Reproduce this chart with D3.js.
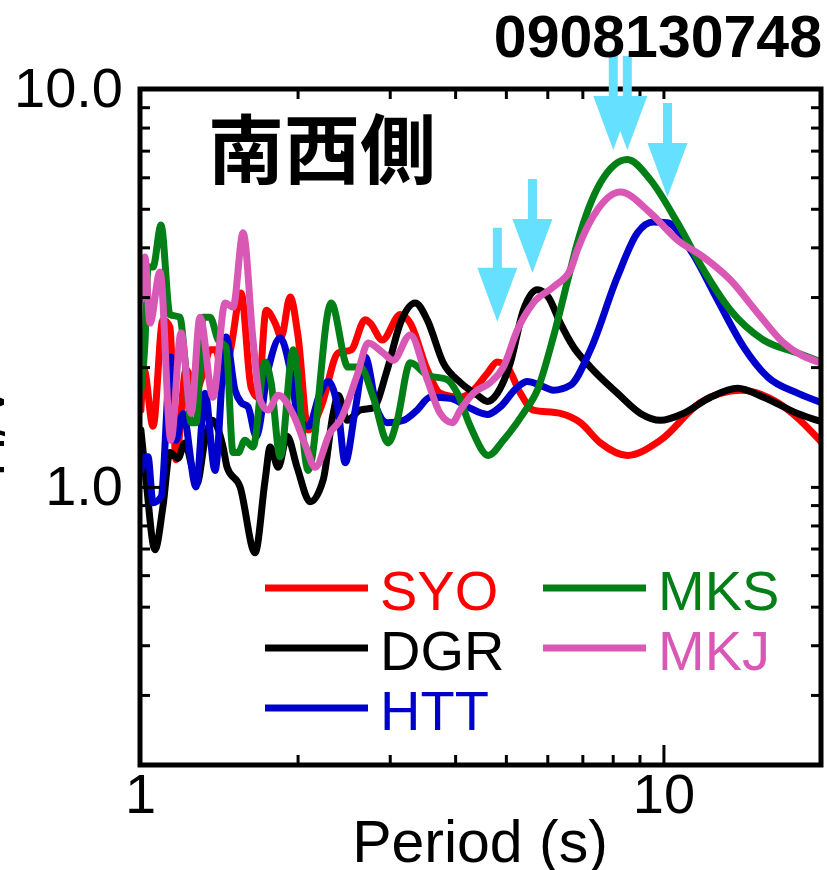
<!DOCTYPE html>
<html>
<head>
<meta charset="utf-8">
<script src="https://cdn.jsdelivr.net/npm/d3@7"></script>
<style>
  body { margin: 0; background: #fff; }
  svg { display: block; }
</style>
</head>
<body>
<script>
// H/V spectral ratio per station: [period (s), H/V]
const SYO = [[1.004,1.56],[1.018,1.97],[1.059,1.42],[1.106,2.63],[1.141,2.52],[1.172,1.17],[1.224,1.97],[1.280,1.75],[1.320,1.93],[1.361,2.21],[1.397,2.21],[1.441,1.83],[1.493,2.25],[1.560,3.07],[1.630,1.78],[1.681,1.68],[1.742,2.78],[1.812,2.58],[1.861,2.38],[1.936,3.00],[2.005,2.38],[2.096,1.39],[2.219,1.59],[2.391,2.17],[2.531,2.21],[2.693,2.63],[2.753,2.58],[2.903,2.34],[3.143,2.71],[3.283,2.58],[3.538,1.97],[3.746,1.72],[4.092,1.68],[4.333,1.75],[4.609,1.93],[4.816,2.06],[5.033,2.00],[5.329,1.72],[5.642,1.56],[6.354,1.53],[6.939,1.45],[7.578,1.29],[8.534,1.20],[9.869,1.31],[11.77,1.63],[14.04,1.75],[16.52,1.63],[20.0,1.30]];
const DGR = [[1.004,1.39],[1.027,1.04],[1.068,0.695],[1.106,0.891],[1.141,1.22],[1.182,1.18],[1.219,1.29],[1.257,1.12],[1.285,1.02],[1.331,1.31],[1.373,1.47],[1.441,1.26],[1.467,1.12],[1.553,1.00],[1.659,0.683],[1.734,1.04],[1.773,1.26],[1.837,1.12],[1.910,1.34],[1.996,1.12],[2.114,0.917],[2.238,1.04],[2.339,1.53],[2.391,1.70],[2.488,1.47],[2.634,1.56],[2.790,1.58],[2.967,1.97],[3.143,2.58],[3.356,2.90],[3.538,2.63],[3.796,2.05],[4.092,1.83],[4.410,1.70],[4.609,1.64],[4.816,1.72],[5.099,2.05],[5.400,2.78],[5.742,3.13],[6.027,3.00],[6.354,2.58],[6.728,2.25],[7.252,2.00],[8.166,1.72],[9.036,1.53],[9.869,1.47],[10.92,1.53],[12.30,1.68],[13.86,1.77],[15.53,1.68],[18.04,1.53],[20.0,1.46]];
const HTT = [[1.004,1.10],[1.022,1.19],[1.036,1.19],[1.059,0.912],[1.097,0.944],[1.146,2.12],[1.172,1.31],[1.208,1.53],[1.280,1.00],[1.331,1.72],[1.391,1.10],[1.460,2.38],[1.519,1.75],[1.560,1.63],[1.608,1.59],[1.667,1.34],[1.757,1.97],[1.853,2.37],[1.936,1.97],[2.005,1.50],[2.096,1.42],[2.209,1.72],[2.288,1.84],[2.391,1.56],[2.466,1.15],[2.577,1.56],[2.693,2.12],[2.840,1.56],[2.967,1.45],[3.185,1.47],[3.385,1.56],[3.585,1.68],[3.915,1.67],[4.220,1.59],[4.609,1.52],[4.880,1.59],[5.259,1.78],[5.495,1.84],[5.819,1.80],[6.161,1.75],[6.640,1.80],[7.252,2.21],[8.166,3.37],[8.918,4.35],[9.570,4.63],[10.18,4.61],[11.26,3.94],[12.69,2.95],[14.22,2.25],[15.81,1.89],[18.04,1.72],[20.0,1.63]];
const MKS = [[1.004,1.75],[1.022,2.30],[1.036,3.57],[1.059,3.57],[1.097,4.55],[1.141,2.71],[1.192,2.67],[1.219,2.08],[1.252,1.45],[1.280,1.45],[1.320,2.67],[1.361,2.67],[1.410,2.34],[1.460,2.25],[1.506,1.22],[1.540,1.22],[1.587,1.31],[1.644,1.26],[1.734,2.06],[1.780,1.83],[1.853,1.19],[1.962,2.21],[2.096,1.10],[2.318,2.90],[2.498,2.00],[2.634,2.00],[2.790,1.68],[2.980,1.29],[3.100,1.47],[3.283,2.05],[3.538,1.91],[3.864,1.86],[4.038,1.72],[4.276,1.42],[4.629,1.20],[4.945,1.31],[5.400,1.53],[5.742,1.75],[6.161,2.38],[6.640,3.51],[6.848,4.10],[7.578,5.81],[8.534,6.65],[9.444,5.91],[10.64,4.61],[11.93,3.51],[13.43,2.78],[15.53,2.34],[18.04,2.17],[20.0,2.06]];
const MKJ = [[1.004,2.95],[1.022,3.78],[1.045,2.58],[1.092,3.47],[1.146,1.31],[1.198,2.44],[1.252,1.53],[1.302,2.67],[1.379,1.68],[1.454,2.90],[1.506,2.83],[1.574,4.35],[1.644,2.34],[1.696,1.65],[1.757,1.56],[1.837,1.70],[1.962,1.52],[2.068,1.275],[2.161,1.12],[2.308,1.37],[2.412,1.47],[2.600,1.91],[2.729,2.30],[2.915,2.17],[3.045,2.08],[3.283,2.41],[3.538,1.86],[3.746,1.53],[3.950,1.45],[4.092,1.56],[4.333,1.72],[4.670,1.83],[4.945,2.00],[5.259,2.48],[5.642,2.90],[6.161,3.18],[6.640,3.51],[6.848,3.94],[7.479,4.97],[8.275,5.51],[9.444,4.88],[10.64,4.17],[11.93,3.78],[13.43,3.31],[15.12,2.74],[16.96,2.30],[20.0,2.05]];

const stationNames  = ["SYO", "DGR", "HTT", "MKS", "MKJ"];
const stationData   = [SYO, DGR, HTT, MKS, MKJ];
const stationColors = ["#FF0000", "#000000", "#0000CC", "#037F18", "#D957B5"];

// Peak markers: [period (s), H/V at arrow tip]
const peakArrows = [[4.816, 2.60], [5.62, 3.45], [8.02, 7.03], [8.53, 7.03], [10.18, 5.35]];

const xMinorTicks = [2, 3, 4, 5, 6, 7, 8, 9, 20];
const xMajorTicks = [1, 10];
const xMajorLabels = ["1", "10"];
const yMinorTicks = [0.3, 0.4, 0.5, 0.6, 0.7, 0.8, 0.9, 2, 3, 4, 5, 6, 7, 8, 9];
const yMajorTicks = [1, 10];
const yMajorLabels = ["1.0", "10.0"];

const eventId = "0908130748";
const sideLabel = "南西側";
const xTitle = "Period (s)";
const yTitle = "H/V";

const W = 827, H = 870;
const plot = { left: 140, top: 89, right: 821, bottom: 765 };
const FONT = "'Liberation Sans', Arial, sans-serif";

const svg = d3.select("body").append("svg").attr("width", W).attr("height", H);

const x = d3.scaleLog().domain([1, 20]).range([plot.left, plot.right]);
const y = d3.scaleLog().domain([0.2, 10]).range([plot.bottom, plot.top]);

svg.append("defs").append("clipPath").attr("id", "plotclip")
  .append("rect")
  .attr("x", plot.left).attr("y", plot.top)
  .attr("width", plot.right - plot.left).attr("height", plot.bottom - plot.top);

// Curves
const line = d3.line()
  .x(d => x(d[0]))
  .y(d => y(d[1]))
  .curve(d3.curveMonotoneX);

const curves = svg.append("g").attr("clip-path", "url(#plotclip)");
stationData.forEach((data, i) => {
  curves.append("path")
    .datum(data)
    .attr("d", line)
    .attr("fill", "none")
    .attr("stroke", stationColors[i])
    .attr("stroke-width", 7)
    .attr("stroke-linejoin", "round")
    .attr("stroke-linecap", "round");
});

// Axes (ticks point inward)
function styleAxis(g, labelSize) {
  g.select(".domain").remove();
  g.selectAll(".tick line").attr("stroke", "#000").attr("stroke-width", 3);
  g.selectAll(".tick text")
    .attr("fill", "#000")
    .style("font-family", FONT)
    .style("font-size", labelSize + "px");
}

const atBottom = `translate(0,${plot.bottom})`;
svg.append("g").attr("transform", atBottom)
  .call(d3.axisBottom(x).tickValues(xMinorTicks).tickSizeInner(-10).tickSizeOuter(0).tickFormat(""))
  .call(g => styleAxis(g, 56));
svg.append("g").attr("transform", atBottom)
  .call(d3.axisBottom(x).tickValues(xMajorTicks).tickSizeInner(-20).tickSizeOuter(0).tickPadding(8)
    .tickFormat((d, i) => xMajorLabels[i]))
  .call(g => styleAxis(g, 56));

const atTop = `translate(0,${plot.top})`;
svg.append("g").attr("transform", atTop)
  .call(d3.axisTop(x).tickValues(xMinorTicks.concat(xMajorTicks)).tickSizeInner(-10).tickSizeOuter(0).tickFormat(""))
  .call(g => styleAxis(g, 56));

const atLeft = `translate(${plot.left},0)`;
svg.append("g").attr("transform", atLeft)
  .call(d3.axisLeft(y).tickValues(yMinorTicks).tickSizeInner(-10).tickSizeOuter(0).tickFormat(""))
  .call(g => styleAxis(g, 56));
svg.append("g").attr("transform", atLeft)
  .call(d3.axisLeft(y).tickValues(yMajorTicks).tickSizeInner(-20).tickSizeOuter(0).tickPadding(17)
    .tickFormat((d, i) => yMajorLabels[i]))
  .call(g => styleAxis(g, 56));

const atRight = `translate(${plot.right},0)`;
svg.append("g").attr("transform", atRight)
  .call(d3.axisRight(y).tickValues(yMinorTicks.concat(yMajorTicks)).tickSizeInner(-10).tickSizeOuter(0).tickFormat(""))
  .call(g => styleAxis(g, 56));

// Frame
svg.append("rect")
  .attr("x", plot.left).attr("y", plot.top)
  .attr("width", plot.right - plot.left).attr("height", plot.bottom - plot.top)
  .attr("fill", "none").attr("stroke", "#000").attr("stroke-width", 5);

// Peak arrows
const arrowG = svg.append("g");
peakArrows.forEach(([p, v]) => {
  const tx = x(p), ty = y(v);
  const headLen = 54, headHalf = 20, shaftLen = 40, shaftHalf = 4.5;
  const pts = [
    [tx, ty],
    [tx - headHalf, ty - headLen],
    [tx - shaftHalf, ty - headLen],
    [tx - shaftHalf, ty - headLen - shaftLen],
    [tx + shaftHalf, ty - headLen - shaftLen],
    [tx + shaftHalf, ty - headLen],
    [tx + headHalf, ty - headLen]
  ];
  arrowG.append("polygon")
    .attr("points", pts.map(q => q.join(",")).join(" "))
    .attr("fill", "#66E0FF");
});

// Legend
const legendPos = [[265, 588], [265, 648], [265, 708], [543, 588], [543, 648]];
const legend = svg.append("g");
stationNames.forEach((name, i) => {
  const [lx, ly] = legendPos[i];
  legend.append("line")
    .attr("x1", lx).attr("x2", lx + 103)
    .attr("y1", ly).attr("y2", ly)
    .attr("stroke", stationColors[i]).attr("stroke-width", 7);
  legend.append("text")
    .attr("x", lx + 115).attr("y", ly + 22)
    .attr("fill", stationColors[i])
    .style("font-family", FONT).style("font-size", "56px")
    .text(name);
});

// Titles
svg.append("text")
  .attr("x", 822).attr("y", 57)
  .attr("text-anchor", "end")
  .style("font-family", FONT).style("font-size", "59px").style("font-weight", "bold")
  .text(eventId);

svg.append("text")
  .attr("x", 208).attr("y", 178)
  .style("font-family", "'Noto Sans CJK JP', 'Noto Sans CJK SC', sans-serif")
  .style("font-size", "76px").style("font-weight", "bold")
  .text(sideLabel);

svg.append("text")
  .attr("x", 480).attr("y", 862)
  .attr("text-anchor", "middle")
  .style("font-family", FONT).style("font-size", "59px")
  .text(xTitle);

svg.append("text")
  .attr("transform", "translate(4,430) rotate(-90)")
  .attr("text-anchor", "middle")
  .style("font-family", FONT).style("font-size", "56px")
  .text(yTitle);
</script>
</body>
</html>
